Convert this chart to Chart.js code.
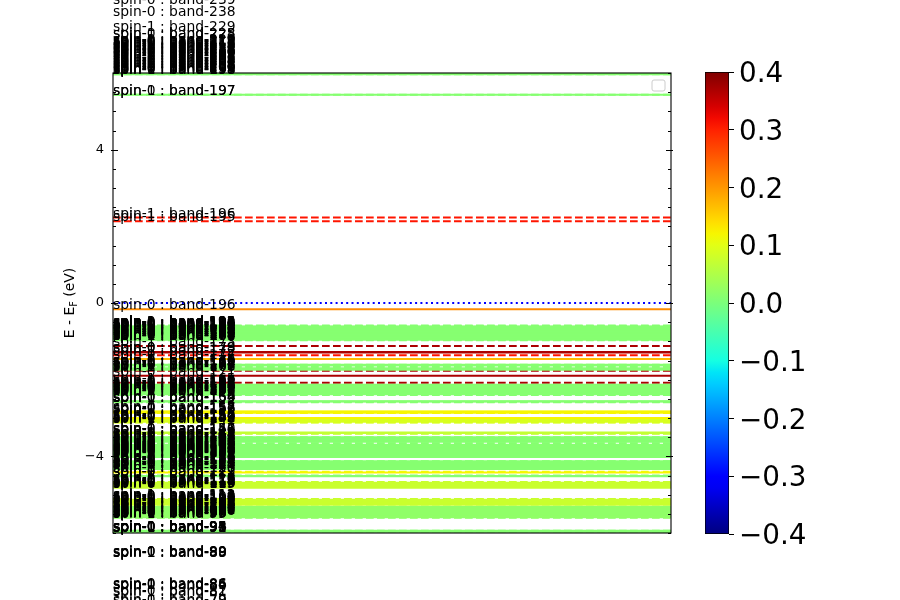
<!DOCTYPE html>
<html>
<head>
<meta charset="utf-8">
<script src="https://cdn.jsdelivr.net/npm/chart.js@4.4.1/dist/chart.umd.min.js"></script>
<style>
  html, body { margin: 0; padding: 0; background: #fff; }
  #wrap { position: relative; width: 900px; height: 600px; }
  #main { position: absolute; left: 0; top: 0; }
  #cbar { position: absolute; left: 690px; top: 0; }
</style>
</head>
<body>
<div id="wrap">
  <canvas id="main" width="900" height="600"></canvas>
  <canvas id="cbar" width="210" height="600"></canvas>
</div>
<script>
// spin-0 levels (solid lines)
var s0Band = [79, 82, 85, 86, 89, 90, 93, 94, 95, 96,
  97, 98, 99, 100, 101, 102, 103, 104, 105, 106,
  107, 108, 109, 110, 111, 112, 113, 114, 115, 116,
  117, 118, 119, 120, 121, 122, 123, 124, 125, 126,
  127, 128, 129, 130, 131, 132, 133, 134, 135, 136,
  137, 138, 139, 140, 141, 142, 143, 144, 145, 146,
  147, 148, 149, 150, 151, 152, 153, 154, 155, 156,
  157, 158, 159, 160, 161, 162, 163, 164, 165, 166,
  167, 168, 169, 170, 171, 172, 173, 174, 175, 176,
  177, 178, 179, 180, 181, 182, 183, 184, 185, 186,
  187, 188, 189, 190, 191, 192, 193, 194, 195, 196,
  197, 198, 199, 200, 201, 202, 203, 204, 205, 206,
  207, 208, 209, 210, 211, 212, 213, 214, 215, 216,
  217, 218, 219, 220, 225, 238, 239];
var s0Energy = [-7.85, -7.62, -7.46, -7.44, -6.61, -6.59, -5.97, -5.96, -5.95, -5.94,
  -5.59, -5.58, -5.57, -5.54, -5.51, -5.48, -5.45, -5.42, -5.39, -5.36,
  -5.34, -5.32, -5.26, -5.24, -5.21, -5.18, -5.15, -5.13, -4.82, -4.80,
  -4.76, -4.74, -4.71, -4.69, -4.52, -4.51, -4.42, -4.33, -4.30, -4.27,
  -4.24, -4.21, -4.18, -4.15, -4.13, -4.02, -3.99, -3.96, -3.93, -3.91,
  -3.88, -3.86, -3.83, -3.80, -3.77, -3.75, -3.72, -3.70, -3.62, -3.60,
  -3.56, -3.53, -3.50, -3.39, -3.38, -3.10, -3.08, -3.05, -3.00, -2.86,
  -2.84, -2.83, -2.57, -2.56, -2.38, -2.36, -2.33, -2.30, -2.28, -2.26,
  -2.22, -2.18, -2.15, -2.13, -1.90, -1.74, -1.72, -1.70, -1.63, -1.61,
  -1.46, -1.29, -1.28, -0.96, -0.94, -0.90, -0.88, -0.86, -0.82, -0.80,
  -0.78, -0.74, -0.71, -0.69, -0.67, -0.65, -0.63, -0.62, -0.61, -0.16,
  5.43, 5.97, 6.00, 6.03, 6.06, 6.10, 6.14, 6.18, 6.22, 6.26,
  6.30, 6.34, 6.38, 6.42, 6.46, 6.50, 6.53, 6.57, 6.61, 6.64,
  6.68, 6.71, 6.74, 6.75, 6.92, 7.48, 7.79];
var s0Weight = [0.01, 0.01, 0.01, 0.01, 0.01, 0.01, 0.01, 0.01, 0.01, 0.01,
  0.02, 0.02, 0.02, 0.02, 0.02, 0.02, 0.02, 0.02, 0.02, 0.02,
  0.02, 0.02, 0.075, 0.075, 0.075, 0.075, 0.075, 0.075, 0.075, 0.075,
  0.075, 0.075, 0.075, 0.075, 0.01, 0.01, 0.12, 0.01, 0.01, 0.01,
  0.01, 0.01, 0.01, 0.01, 0.01, 0.01, 0.01, 0.01, 0.01, 0.01,
  0.01, 0.01, 0.01, 0.01, 0.01, 0.01, 0.01, 0.01, 0.01, 0.01,
  0.01, 0.01, 0.01, 0.07, 0.07, 0.09, 0.09, 0.09, 0.12, 0.12,
  0.12, 0.12, 0.01, 0.01, 0.01, 0.01, 0.01, 0.01, 0.01, 0.01,
  0.01, 0.01, 0.01, 0.01, 0.37, 0.01, 0.01, 0.01, 0.01, 0.01,
  0.17, 0.37, 0.37, 0.01, 0.01, 0.01, 0.01, 0.01, 0.01, 0.01,
  0.01, 0.01, 0.01, 0.01, 0.01, 0.01, 0.01, 0.01, 0.01, 0.21,
  0.01, 0.01, 0.01, 0.01, 0.01, 0.01, 0.01, 0.01, 0.01, 0.01,
  0.01, 0.01, 0.01, 0.01, 0.01, 0.01, 0.01, 0.01, 0.01, 0.01,
  0.01, 0.01, 0.01, 0.01, 0.01, 0.01, 0.01];

// spin-1 levels (dashed lines)
var s1Band = [79, 81, 84, 86, 88, 89, 91, 92, 93, 94,
  95, 96, 97, 98, 99, 100, 101, 102, 103, 104,
  105, 106, 107, 108, 109, 110, 111, 112, 113, 114,
  115, 116, 117, 118, 119, 120, 121, 122, 123, 124,
  125, 126, 127, 128, 129, 130, 131, 132, 133, 134,
  135, 136, 137, 138, 139, 140, 141, 142, 143, 144,
  145, 146, 147, 148, 149, 150, 151, 152, 153, 154,
  155, 156, 157, 158, 159, 160, 161, 162, 163, 164,
  165, 166, 167, 168, 169, 170, 171, 172, 173, 174,
  175, 176, 177, 178, 179, 180, 181, 182, 183, 184,
  185, 186, 187, 188, 189, 190, 191, 192, 193, 194,
  195, 196, 197, 198, 199, 200, 201, 202, 203, 204,
  205, 206, 207, 208, 209, 210, 211, 212, 213, 214,
  215, 216, 217, 218, 219, 228, 229];
var s1Energy = [-7.88, -7.64, -7.47, -7.45, -6.63, -6.62, -5.97, -5.96, -5.95, -5.94,
  -5.60, -5.58, -5.55, -5.52, -5.50, -5.48, -5.44, -5.42, -5.38, -5.37,
  -5.33, -5.31, -5.22, -5.21, -5.17, -5.16, -5.12, -5.11, -4.79, -4.78,
  -4.75, -4.72, -4.70, -4.67, -4.50, -4.40, -4.31, -4.30, -4.26, -4.24,
  -4.19, -4.18, -4.14, -4.13, -4.00, -3.97, -3.94, -3.92, -3.89, -3.87,
  -3.84, -3.81, -3.78, -3.76, -3.73, -3.69, -3.66, -3.61, -3.57, -3.54,
  -3.50, -3.41, -3.40, -3.12, -3.11, -3.06, -3.02, -2.87, -2.86, -2.59,
  -2.58, -2.40, -2.39, -2.35, -2.32, -2.30, -2.25, -2.21, -2.18, -2.16,
  -2.08, -1.77, -1.73, -1.68, -1.65, -1.62, -1.61, -1.36, -1.12, -0.97,
  -0.96, -0.92, -0.90, -0.87, -0.85, -0.83, -0.80, -0.77, -0.75, -0.72,
  -0.70, -0.68, -0.67, -0.65, -0.64, -0.63, -0.62, -0.61, -0.60, -0.59,
  2.13, 2.23, 5.43, 5.97, 6.01, 6.04, 6.08, 6.12, 6.16, 6.20,
  6.24, 6.28, 6.33, 6.37, 6.41, 6.45, 6.49, 6.52, 6.56, 6.59,
  6.63, 6.66, 6.70, 6.73, 6.76, 6.92, 7.09];
var s1Weight = [0.01, 0.01, 0.01, 0.01, 0.01, 0.01, 0.01, 0.01, 0.01, 0.01,
  0.02, 0.02, 0.02, 0.02, 0.02, 0.02, 0.02, 0.02, 0.02, 0.02,
  0.02, 0.02, 0.075, 0.075, 0.075, 0.075, 0.075, 0.075, 0.075, 0.075,
  0.075, 0.075, 0.075, 0.075, 0.01, 0.11, 0.01, 0.01, 0.01, 0.01,
  0.01, 0.01, 0.01, 0.01, 0.01, 0.01, 0.01, 0.01, 0.01, 0.01,
  0.01, 0.01, 0.01, 0.01, 0.01, 0.01, 0.01, 0.01, 0.01, 0.01,
  0.01, 0.07, 0.07, 0.09, 0.09, 0.09, 0.10, 0.12, 0.12, 0.01,
  0.01, 0.01, 0.01, 0.01, 0.01, 0.01, 0.01, 0.01, 0.01, 0.01,
  0.37, 0.37, 0.01, 0.01, 0.01, 0.01, 0.01, 0.31, 0.37, 0.01,
  0.01, 0.01, 0.01, 0.01, 0.01, 0.01, 0.01, 0.01, 0.01, 0.01,
  0.01, 0.01, 0.01, 0.01, 0.01, 0.01, 0.01, 0.01, 0.01, 0.01,
  0.31, 0.31, 0.01, 0.01, 0.01, 0.01, 0.01, 0.01, 0.01, 0.01,
  0.01, 0.01, 0.01, 0.01, 0.01, 0.01, 0.01, 0.01, 0.01, 0.01,
  0.01, 0.01, 0.01, 0.01, 0.01, 0.01, 0.01];

var fermiLevel = 0;
var yMin = -6, yMax = 6;
var yTicks = [-4, 0, 4];
var xMin = -0.0155, xMax = 1;
var cbMin = -0.4, cbMax = 0.4;
var cbTicks = [-0.4, -0.3, -0.2, -0.1, 0.0, 0.1, 0.2, 0.3, 0.4];

// matplotlib jet
var jetR = [[0, 0], [0.35, 0], [0.66, 1], [0.89, 1], [1, 0.5]];
var jetG = [[0, 0], [0.125, 0], [0.375, 1], [0.64, 1], [0.91, 0], [1, 0]];
var jetB = [[0, 0.5], [0.11, 1], [0.34, 1], [0.65, 0], [1, 0]];
function seg(pts, t) {
  for (var i = 1; i < pts.length; i++) {
    if (t <= pts[i][0]) {
      var a = pts[i - 1], b = pts[i];
      return a[1] + (b[1] - a[1]) * (t - a[0]) / (b[0] - a[0]);
    }
  }
  return pts[pts.length - 1][1];
}
function jet(t) {
  t = Math.max(0, Math.min(1, t));
  return 'rgb(' + Math.round(seg(jetR, t) * 255) + ',' + Math.round(seg(jetG, t) * 255) + ',' +
    Math.round(seg(jetB, t) * 255) + ')';
}
function weightColor(w) { return jet((w - cbMin) / (cbMax - cbMin)); }

var datasets = [];
function addLevels(energy, weight, dashed) {
  for (var i = 0; i < energy.length; i++) {
    datasets.push({
      data: [{x: xMin, y: energy[i]}, {x: xMax, y: energy[i]}],
      borderColor: weightColor(weight[i]),
      borderWidth: 2,
      borderDash: dashed ? [7.7, 3.3] : [],
      pointRadius: 0,
      fill: false
    });
  }
}
addLevels(s0Energy, s0Weight, false);
addLevels(s1Energy, s1Weight, true);
datasets.push({
  data: [{x: xMin, y: fermiLevel}, {x: xMax, y: fermiLevel}],
  borderColor: '#0000ff',
  borderWidth: 2,
  borderDash: [2, 3.3],
  pointRadius: 0,
  fill: false
});

var labelPlugin = {
  id: 'bandLabels',
  afterDatasetsDraw: function (chart) {
    var ctx = chart.ctx, xs = chart.scales.x, ys = chart.scales.y;
    ctx.save();
    ctx.fillStyle = '#000';
    ctx.font = '13.9px "DejaVu Sans"';
    ctx.textAlign = 'left';
    ctx.textBaseline = 'alphabetic';
    var x0 = xs.getPixelForValue(xMin);
    s0Band.forEach(function (b, i) {
      ctx.fillText('spin-0 : band-' + b, x0, ys.getPixelForValue(s0Energy[i]));
    });
    s1Band.forEach(function (b, i) {
      ctx.fillText('spin-1 : band-' + b, x0, ys.getPixelForValue(s1Energy[i]));
    });
    ctx.restore();
  }
};

var framePlugin = {
  id: 'frame',
  afterDraw: function (chart) {
    var ctx = chart.ctx, a = chart.chartArea, ys = chart.scales.y, xs = chart.scales.x;
    ctx.save();
    ctx.strokeStyle = '#000';
    ctx.lineWidth = 1.1;
    ctx.strokeRect(a.left, a.top, a.right - a.left, a.bottom - a.top);
    ctx.lineWidth = 1;
    ctx.beginPath();
    for (var v = yMin; v <= yMax; v += 0.5) {
      var py = Math.round(ys.getPixelForValue(v)) + 0.5;
      var major = yTicks.indexOf(v) >= 0;
      ctx.moveTo(a.left - (major ? 2 : 0), py); ctx.lineTo(a.left + (major ? 5 : 3), py);
      ctx.moveTo(a.right + (major ? 2 : 0), py); ctx.lineTo(a.right - (major ? 5 : 3), py);
    }
    var px = Math.round(xs.getPixelForValue(0)) + 0.5;
    ctx.moveTo(px, a.top - 1); ctx.lineTo(px, a.top + 4);
    ctx.moveTo(px, a.bottom + 2); ctx.lineTo(px, a.bottom - 4);
    ctx.stroke();
    // empty legend frame
    ctx.strokeStyle = '#cccccc';
    ctx.fillStyle = 'rgba(255,255,255,0.8)';
    ctx.beginPath();
    ctx.roundRect(a.right - 19, a.top + 7, 13, 11, 2);
    ctx.fill();
    ctx.stroke();
    // y label with subscript
    ctx.fillStyle = '#000';
    ctx.textBaseline = 'alphabetic';
    var f1 = '13.9px "DejaVu Sans"', f2 = '9.7px "DejaVu Sans"';
    ctx.font = f1; var w1 = ctx.measureText('E - E').width, w3 = ctx.measureText(' (eV)').width;
    ctx.font = f2; var w2 = ctx.measureText('F').width;
    var total = w1 + w2 + w3;
    ctx.translate(74, (a.top + a.bottom) / 2);
    ctx.rotate(-Math.PI / 2);
    ctx.textAlign = 'left';
    ctx.font = f1; ctx.fillText('E - E', -total / 2, 0);
    ctx.font = f2; ctx.fillText('F', -total / 2 + w1, 3);
    ctx.font = f1; ctx.fillText(' (eV)', -total / 2 + w1 + w2, 0);
    ctx.restore();
  }
};

new Chart(document.getElementById('main'), {
  type: 'line',
  data: {datasets: datasets},
  options: {
    responsive: false,
    animation: false,
    devicePixelRatio: 1,
    layout: {padding: {left: 0, right: 229, top: 73, bottom: 67}},
    plugins: {legend: {display: false}, tooltip: {enabled: false}},
    scales: {
      x: {type: 'linear', min: xMin, max: xMax, display: false},
      y: {
        type: 'linear', min: yMin, max: yMax,
        afterBuildTicks: function (s) { s.ticks = yTicks.map(function (v) { return {value: v}; }); },
        afterFit: function (s) { s.width = 113; },
        grid: {display: false},
        border: {display: false},
        ticks: {
          color: '#000', padding: 1,
          font: {family: 'DejaVu Sans', size: 13},
          callback: function (v) { return String(v).replace('-', '\u2212'); }
        }
      }
    }
  },
  plugins: [labelPlugin, framePlugin]
});

// colorbar
new Chart(document.getElementById('cbar'), {
  type: 'bar',
  data: {
    labels: ['w'],
    datasets: [{
      data: [[cbMin, cbMax]],
      backgroundColor: function (c) {
        var a = c.chart.chartArea;
        if (!a) return '#fff';
        var g = c.chart.ctx.createLinearGradient(0, a.bottom, 0, a.top);
        for (var i = 0; i <= 40; i++) g.addColorStop(i / 40, jet(i / 40));
        return g;
      },
      borderColor: '#000',
      borderWidth: 1,
      borderSkipped: false,
      barPercentage: 1,
      categoryPercentage: 1
    }]
  },
  options: {
    responsive: false,
    animation: false,
    devicePixelRatio: 1,
    layout: {padding: {left: 15, right: 0, top: 72, bottom: 66}},
    plugins: {legend: {display: false}, tooltip: {enabled: false}},
    scales: {
      x: {display: false},
      y: {
        position: 'right', min: cbMin, max: cbMax,
        afterBuildTicks: function (s) { s.ticks = cbTicks.map(function (v) { return {value: v}; }); },
        afterFit: function (s) { s.width = 171; },
        grid: {drawOnChartArea: false, tickLength: 5, color: '#000'},
        border: {display: false},
        ticks: {
          color: '#000', padding: 5, labelOffset: 3,
          font: {family: 'DejaVu Sans', size: 27.8},
          callback: function (v) { return v.toFixed(1).replace('-', '\u2212'); }
        }
      }
    }
  }
});
</script>
</body>
</html>
